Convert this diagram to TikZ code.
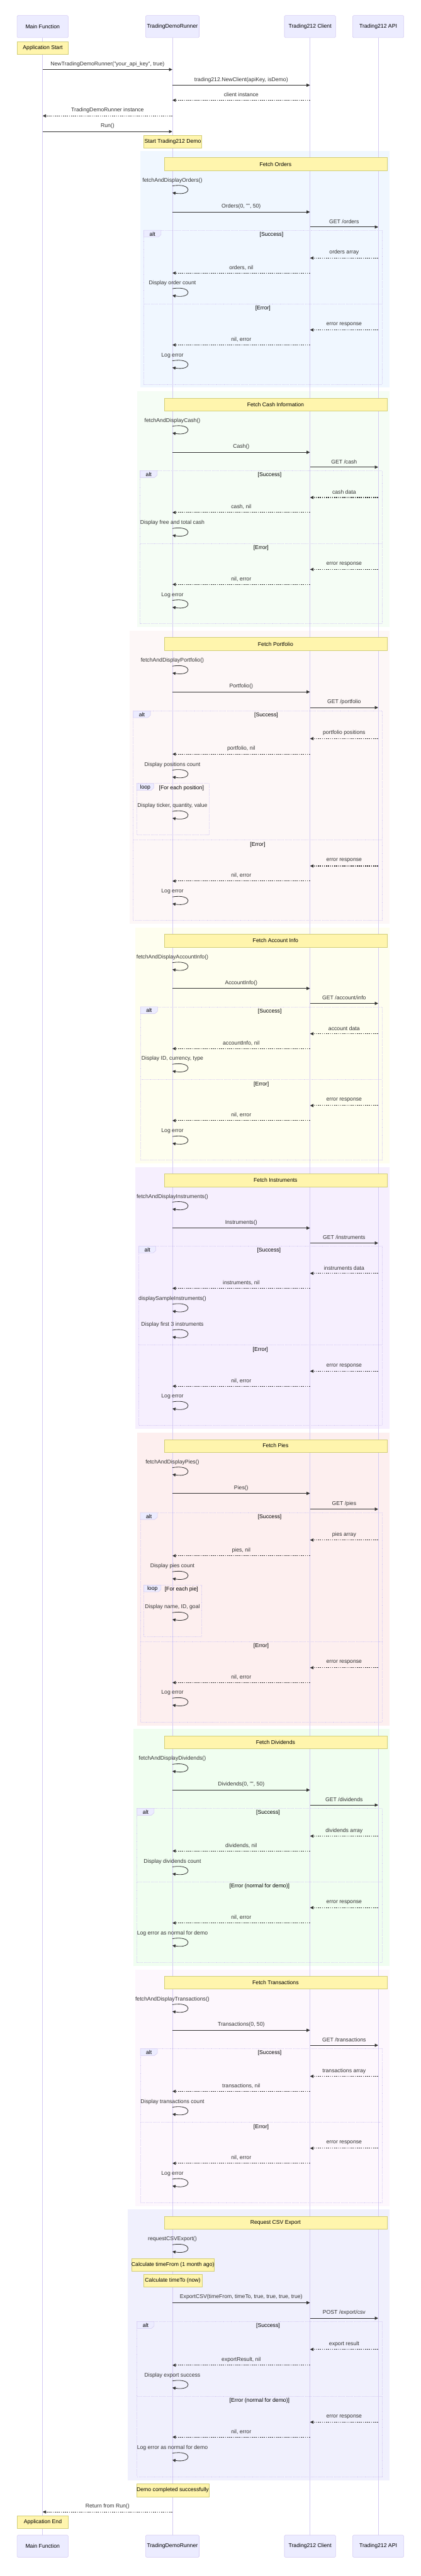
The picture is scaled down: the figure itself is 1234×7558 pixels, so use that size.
\documentclass[tikz,border=0pt]{standalone}
\usepackage{fontspec}
\setmainfont{Liberation Sans}
\usetikzlibrary{arrows.meta,calc}

\definecolor{actorbg}{HTML}{ECECFF}
\definecolor{actorbd}{HTML}{D5CBF3}
\definecolor{notebg}{HTML}{FFF5AD}
\definecolor{notebd}{HTML}{D2CE78}
\definecolor{sig}{HTML}{333333}
\definecolor{cOrders}{HTML}{F0F7FF}
\definecolor{cCash}{HTML}{F5FDF5}
\definecolor{cPort}{HTML}{FDF7F7}
\definecolor{cAcct}{HTML}{FEFEEF}
\definecolor{cInst}{HTML}{F6EFFE}
\definecolor{cPies}{HTML}{FDEFEF}
\definecolor{cDiv}{HTML}{F0FEF0}
\definecolor{cTx}{HTML}{FDF7FD}
\definecolor{cCsv}{HTML}{F0F0FD}

\newcommand\labfont{\fontsize{16}{19}\selectfont}
\def\xM{125}
\def\xR{505.5}
\def\xC{909}
\def\xA{1109}

\tikzset{
  actorbox/.style={draw=actorbd, fill=actorbg, line width=1pt, rounded corners=3pt,
    minimum height=65pt, text=black, font=\labfont, inner sep=0pt},
  notebox/.style={draw=notebd, fill=notebg, line width=1pt, font=\labfont, text=black, inner sep=0pt},
  lifeline/.style={draw=actorbd, line width=1pt},
  callline/.style={draw=sig, line width=2pt, -{Triangle[length=10pt,width=9pt]}},
  retline/.style={draw=sig, line width=2pt, dash pattern=on 3pt off 3pt, -{Triangle[length=10pt,width=9pt]}},
  selfline/.style={draw=sig, line width=1.5pt, -{Triangle[length=9pt,width=9pt]}},
  msglabel/.style={font=\labfont, text=sig, inner sep=0pt},
  frameline/.style={draw=actorbd, line width=1.5pt, dash pattern=on 2pt off 2pt},
  framelabel/.style={draw=actorbd, fill=actorbg, line width=1pt},
  frametext/.style={font=\labfont, text=black, inner sep=0pt},
}

% name, x from, x to, y, label
\newcommand\callmsg[5]{%
  \coordinate (#1a) at (#2,#4);
  \coordinate (#1b) at (#3,#4);
  \draw[callline] (#1a) -- (#1b);
  \node[msglabel] (#1t) at ($(#1a)!0.5!(#1b)+(0,-16)$) {#5};}
\newcommand\retmsg[5]{%
  \coordinate (#1a) at (#2,#4);
  \coordinate (#1b) at (#3,#4);
  \draw[retline] (#1a) -- (#1b);
  \node[msglabel] (#1t) at ($(#1a)!0.5!(#1b)+(0,-16)$) {#5};}
% name, start y, label
\newcommand\selfmsg[3]{%
  \coordinate (#1a) at (\xR,#2);
  \coordinate (#1b) at (\xR,{#2+20});
  \draw[selfline] (#1a) .. controls +(60,-10) and +(60,10) .. (#1b);
  \node[msglabel] (#1t) at ($(#1a)+(0,-16)$) {#3};}
% name, x1, y1, x2, y2, text
\newcommand\mknote[6]{%
  \node[notebox, anchor=north west, minimum width={((#4)-(#2))*1pt},
    minimum height={((#5)-(#3))*1pt}] (#1) at (#2,#3) {#6};}
% name, x1, top, x2, bottom, sep, label1, label2
\newcommand\altframe[8]{%
  \draw[frameline] (#2,#3) rectangle (#4,#5);
  \draw[frameline] (#2,#6) -- (#4,#6);
  \draw[framelabel] (#2,#3) -- ({#2+50},#3) -- ({#2+50},{#3+13}) -- ({#2+42},{#3+20}) -- (#2,{#3+20}) -- cycle;
  \node[frametext] (#1k) at ({#2+25},{#3+11}) {alt};
  \node[frametext] (#1s) at ({(#2+50+#4)/2},{#3+13}) {[#7]};
  \node[frametext] (#1e) at ({(#2+#4)/2},{#6+13}) {[#8]};}
% name, x1, top, x2, bottom, label
\newcommand\loopframe[6]{%
  \draw[frameline] (#2,#3) rectangle (#4,#5);
  \draw[framelabel] (#2,#3) -- ({#2+50},#3) -- ({#2+50},{#3+13}) -- ({#2+42},{#3+20}) -- (#2,{#3+20}) -- cycle;
  \node[frametext] (#1k) at ({#2+25},{#3+11}) {loop};
  \node[frametext] (#1s) at ({(#2+50+#4)/2},{#3+13}) {[#6]};}

\begin{document}
\begin{tikzpicture}[x=1pt,y=-1pt]
\useasboundingbox (0,0) rectangle (1234,7558);
\fill[white] (0,0) rectangle (1234,7558);

% section backgrounds
\fill[cOrders] (412,443) rectangle (1143,1137.5);
\fill[cCash] (402,1148.6) rectangle (1143,1840);
\fill[cPort] (381,1851) rectangle (1143,2710.6);
\fill[cAcct] (397,2720.8) rectangle (1143,3413.5);
\fill[cInst] (397,3424.5) rectangle (1143,4192.6);
\fill[cPies] (402,4203) rectangle (1143,5062.4);
\fill[cDiv] (392,5073) rectangle (1143,5767.8);
\fill[cTx] (397,5778.4) rectangle (1143,6472.7);
\fill[cCsv] (375,6482.9) rectangle (1143,7276.8);

% actors
\node[actorbox, minimum width=150pt] (mainT) at (\xM,78) {Main Function};
\node[actorbox, minimum width=157pt] (runT) at (\xR,78) {TradingDemoRunner};
\node[actorbox, minimum width=150pt] (cliT) at (\xC,78) {Trading212 Client};
\node[actorbox, minimum width=150pt] (apiT) at (\xA,78) {Trading212 API};
\node[actorbox, minimum width=150pt] (mainB) at (\xM,7470.5) {Main Function};
\node[actorbox, minimum width=157pt] (runB) at (\xR,7470.5) {TradingDemoRunner};
\node[actorbox, minimum width=150pt] (cliB) at (\xC,7470.5) {Trading212 Client};
\node[actorbox, minimum width=150pt] (apiB) at (\xA,7470.5) {Trading212 API};

% lifelines
\draw[lifeline] (mainT.south) -- (mainB.north);
\draw[lifeline] (runT.south) -- (runB.north);
\draw[lifeline] (cliT.south) -- (cliB.north);
\draw[lifeline] (apiT.south) -- (apiB.north);

% intro
\mknote{nAppStart}{50}{121}{200}{158}{Application Start}
\callmsg{m1}{\xM}{\xR}{204}{NewTradingDemoRunner("your\_api\_key", true)}
\callmsg{m2}{\xR}{\xC}{250}{trading212.NewClient(apiKey, isDemo)}
\retmsg{m3}{\xC}{\xR}{294}{client instance}
\retmsg{m4}{\xR}{\xM}{340}{TradingDemoRunner instance}
\callmsg{m5}{\xM}{\xR}{386}{Run()}
\mknote{nStart}{421}{396}{591}{433}{Start Trading212 Demo}

% orders
\mknote{nOrd}{481}{462}{1134}{500}{Fetch Orders}
\selfmsg{o1}{545.5}{fetchAndDisplayOrders()}
\callmsg{o2}{\xR}{\xC}{622}{Orders(0, "", 50)}
\callmsg{o3}{\xC}{\xA}{666}{GET /orders}
\altframe{fo}{422}{675.5}{1120}{1127.7}{891.4}{Success}{Error}
\retmsg{o4}{\xA}{\xC}{757}{orders array}
\retmsg{o5}{\xC}{\xR}{801}{orders, nil}
\selfmsg{o6}{847}{Display order count}
\retmsg{o7}{\xA}{\xC}{968}{error response}
\retmsg{o8}{\xC}{\xR}{1012}{nil, error}
\selfmsg{o9}{1058.5}{Log error}

% cash
\mknote{nCash}{481}{1168}{1134}{1205}{Fetch Cash Information}
\selfmsg{c1}{1250.5}{fetchAndDisplayCash()}
\callmsg{c2}{\xR}{\xC}{1327}{Cash()}
\callmsg{c3}{\xC}{\xA}{1370.6}{GET /cash}
\altframe{fc}{411}{1381}{1120}{1830}{1594.7}{Success}{Error}
\retmsg{c4}{\xA}{\xC}{1459.6}{cash data}
\retmsg{c5}{\xC}{\xR}{1503.7}{cash, nil}
\selfmsg{c6}{1550.5}{Display free and total cash}
\retmsg{c7}{\xA}{\xC}{1670.6}{error response}
\retmsg{c8}{\xC}{\xR}{1714.7}{nil, error}
\selfmsg{c9}{1761.5}{Log error}

% portfolio
\mknote{nPort}{481}{1870}{1134}{1908}{Fetch Portfolio}
\selfmsg{p1}{1954.5}{fetchAndDisplayPortfolio()}
\callmsg{p2}{\xR}{\xC}{2030}{Portfolio()}
\callmsg{p3}{\xC}{\xA}{2076}{GET /portfolio}
\altframe{fp}{391}{2085.7}{1120}{2700.8}{2465}{Success}{Error}
\retmsg{p4}{\xA}{\xC}{2167}{portfolio positions}
\retmsg{p5}{\xC}{\xR}{2212.6}{portfolio, nil}
\selfmsg{p6}{2259.5}{Display positions count}
\loopframe{lp}{401}{2298.8}{613}{2449.8}{For each position}
\selfmsg{p7}{2380.5}{Display ticker, quantity, value}
\retmsg{p8}{\xA}{\xC}{2540.8}{error response}
\retmsg{p9}{\xC}{\xR}{2585}{nil, error}
\selfmsg{p10}{2631.5}{Log error}

% account
\mknote{nAcc}{481}{2741}{1134}{2778}{Fetch Account Info}
\selfmsg{a1}{2824.5}{fetchAndDisplayAccountInfo()}
\callmsg{a2}{\xR}{\xC}{2900}{AccountInfo()}
\callmsg{a3}{\xC}{\xA}{2944}{GET /account/info}
\altframe{fa}{412}{2954}{1120}{3403.7}{3167.8}{Success}{Error}
\retmsg{a4}{\xA}{\xC}{3033}{account data}
\retmsg{a5}{\xC}{\xR}{3076.7}{accountInfo, nil}
\selfmsg{a6}{3122.5}{Display ID, currency, type}
\retmsg{a7}{\xA}{\xC}{3243.7}{error response}
\retmsg{a8}{\xC}{\xR}{3287.8}{nil, error}
\selfmsg{a9}{3334.5}{Log error}

% instruments
\mknote{nIns}{481}{3443.7}{1134}{3481}{Fetch Instruments}
\selfmsg{i1}{3527}{fetchAndDisplayInstruments()}
\callmsg{i2}{\xR}{\xC}{3603}{Instruments()}
\callmsg{i3}{\xC}{\xA}{3647}{GET /instruments}
\altframe{fi}{407}{3656}{1120}{4182.4}{3946.5}{Success}{Error}
\retmsg{i4}{\xA}{\xC}{3736}{instruments data}
\retmsg{i5}{\xC}{\xR}{3780}{instruments, nil}
\selfmsg{i6}{3826.5}{displaySampleInstruments()}
\selfmsg{i7}{3902.5}{Display first 3 instruments}
\retmsg{i8}{\xA}{\xC}{4023}{error response}
\retmsg{i9}{\xC}{\xR}{4067}{nil, error}
\selfmsg{i10}{4113}{Log error}

% pies
\mknote{nPies}{481}{4222.8}{1134}{4260}{Fetch Pies}
\selfmsg{q1}{4306}{fetchAndDisplayPies()}
\callmsg{q2}{\xR}{\xC}{4381.6}{Pies()}
\callmsg{q3}{\xC}{\xA}{4427.8}{GET /pies}
\altframe{fq}{411.6}{4438}{1120}{5052.7}{4816.7}{Success}{Error}
\retmsg{q4}{\xA}{\xC}{4518.4}{pies array}
\retmsg{q5}{\xC}{\xR}{4564.5}{pies, nil}
\selfmsg{q6}{4611.5}{Display pies count}
\loopframe{lq}{422}{4650.6}{592}{4801.6}{For each pie}
\selfmsg{q7}{4731.5}{Display name, ID, goal}
\retmsg{q8}{\xA}{\xC}{4893}{error response}
\retmsg{q9}{\xC}{\xR}{4936.7}{nil, error}
\selfmsg{q10}{4982.5}{Log error}

% dividends
\mknote{nDiv}{481}{5092.7}{1134}{5129.8}{Fetch Dividends}
\selfmsg{d1}{5176.5}{fetchAndDisplayDividends()}
\callmsg{d2}{\xR}{\xC}{5251.8}{Dividends(0, "", 50)}
\callmsg{d3}{\xC}{\xA}{5296}{GET /dividends}
\altframe{fd}{402}{5305.7}{1120}{5758}{5521.6}{Success}{Error (normal for demo)}
\retmsg{d4}{\xA}{\xC}{5387}{dividends array}
\retmsg{d5}{\xC}{\xR}{5430.6}{dividends, nil}
\selfmsg{d6}{5477.5}{Display dividends count}
\retmsg{d7}{\xA}{\xC}{5597}{error response}
\retmsg{d8}{\xC}{\xR}{5642}{nil, error}
\selfmsg{d9}{5688}{Log error as normal for demo}

% transactions
\mknote{nTx}{481}{5798}{1134}{5835}{Fetch Transactions}
\selfmsg{t1}{5881.5}{fetchAndDisplayTransactions()}
\callmsg{t2}{\xR}{\xC}{5956.7}{Transactions(0, 50)}
\callmsg{t3}{\xC}{\xA}{6000.8}{GET /transactions}
\altframe{ft}{411.6}{6010.6}{1120}{6462.9}{6227}{Success}{Error}
\retmsg{t4}{\xA}{\xC}{6091.8}{transactions array}
\retmsg{t5}{\xC}{\xR}{6135.9}{transactions, nil}
\selfmsg{t6}{6182.5}{Display transactions count}
\retmsg{t7}{\xA}{\xC}{6302.9}{error response}
\retmsg{t8}{\xC}{\xR}{6347}{nil, error}
\selfmsg{t9}{6393.5}{Log error}

% csv export
\mknote{nCsv}{481}{6502.9}{1134}{6540}{Request CSV Export}
\selfmsg{e1}{6586}{requestCSVExport()}
\mknote{nFrom}{385}{6625.7}{627}{6663}{Calculate timeFrom (1 month ago)}
\mknote{nTo}{420}{6672.6}{592}{6710}{Calculate timeTo (now)}
\callmsg{e2}{\xR}{\xC}{6756}{ExportCSV(timeFrom, timeTo, true, true, true, true)}
\callmsg{e3}{\xC}{\xA}{6801.6}{POST /export/csv}
\altframe{fe}{402}{6811.4}{1120}{7266.4}{7030.5}{Success}{Error (normal for demo)}
\retmsg{e4}{\xA}{\xC}{6893}{export result}
\retmsg{e5}{\xC}{\xR}{6939.4}{exportResult, nil}
\selfmsg{e6}{6985.5}{Display export success}
\retmsg{e7}{\xA}{\xC}{7106.5}{error response}
\retmsg{e8}{\xC}{\xR}{7150.3}{nil, error}
\selfmsg{e9}{7197.5}{Log error as normal for demo}

% end
\mknote{nDone}{400}{7287}{612}{7324.5}{Demo completed successfully}
\retmsg{z1}{\xR}{\xM}{7370}{Return from Run()}
\mknote{nAppEnd}{50}{7380.6}{200}{7417.5}{Application End}
\end{tikzpicture}
\end{document}
